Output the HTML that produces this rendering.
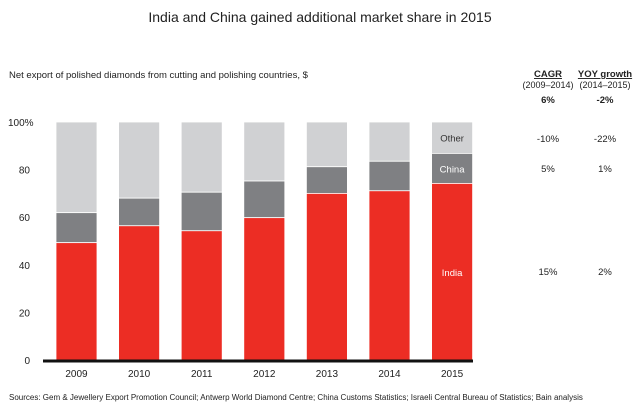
<!DOCTYPE html>
<html><head><meta charset="utf-8"><style>
body{margin:0;background:#fff;font-family:"Liberation Sans",sans-serif;}
svg text{font-family:"Liberation Sans",sans-serif;}
</style></head><body>
<svg width="639" height="415">
<text x="320" y="22" text-anchor="middle" font-size="14" fill="#222">India and China gained additional market share in 2015</text>
<text x="9" y="78" font-size="9.5" fill="#222">Net export of polished diamonds from cutting and polishing countries, $</text>
<g id="ylab"></g><g id="bars"></g><g id="xlab"></g>
<rect x="43" y="359.5" width="430" height="3" fill="#111"/>
<g font-size="9.5" fill="#222" text-anchor="middle">
<text x="548" y="77" font-weight="bold" text-decoration="underline">CAGR</text>
<text x="605" y="77" font-weight="bold" text-decoration="underline">YOY growth</text>
<text x="548" y="88" font-size="9">(2009–2014)</text>
<text x="605" y="88" font-size="9">(2014–2015)</text>
<text x="548" y="103" font-weight="bold">6%</text>
<text x="605" y="103" font-weight="bold">-2%</text>
<text x="548" y="142">-10%</text>
<text x="605" y="142">-22%</text>
<text x="548" y="172">5%</text>
<text x="605" y="172">1%</text>
<text x="548" y="275">15%</text>
<text x="605" y="275">2%</text>
</g>
<text x="9" y="400" font-size="8" fill="#222">Sources: Gem &amp; Jewellery Export Promotion Council; Antwerp World Diamond Centre; China Customs Statistics; Israeli Central Bureau of Statistics; Bain analysis</text>
</svg>
<script>
const years=["2009","2010","2011","2012","2013","2014","2015"];
const india=[49.3,56.4,54.3,59.8,70,71.1,74.2];
const china=[12.6,11.6,16.2,15.4,11.2,12.4,12.6];
const yTicks=[0,20,40,60,80,100];
const ns="http://www.w3.org/2000/svg";
const y0=360,y100=122;
const y=v=>y0-(y0-y100)*v/100;
const x=i=>56+i*62.6, bw=41;
function mk(t,a,p){const e=document.createElementNS(ns,t);for(const k in a)e.setAttribute(k,a[k]);document.getElementById(p).appendChild(e);return e;}
yTicks.forEach(t=>{const e=mk("text",{x:t===100?8:30,y:y(t)+4,"font-size":"10",fill:"#222","text-anchor":t===100?"start":"end"},"ylab");e.textContent=t===100?"100%":t;

});
years.forEach((yr,i)=>{
const ci=india[i]+china[i];
const o=mk("rect",{x:x(i),y:y(100),width:bw,height:y(ci)-y(100),fill:"#d0d1d3",stroke:"#fff","stroke-width":"0.8"},"bars");


const c=mk("rect",{x:x(i),y:y(ci),width:bw,height:y(india[i])-y(ci),fill:"#7f8083",stroke:"#fff","stroke-width":"0.8"},"bars");


const r=mk("rect",{x:x(i),y:y(india[i]),width:bw,height:y0-y(india[i]),fill:"#ec2d24",stroke:"#fff","stroke-width":"0.8"},"bars");


const t=mk("text",{x:x(i)+bw/2,y:377,"font-size":"10",fill:"#222","text-anchor":"middle"},"xlab");t.textContent=yr;


});
const L=years.length-1,cx=x(L)+bw/2;
[["Other",(100+india[L]+china[L])/2,"#333"],["China",india[L]+china[L]/2,"#fff"],["India",37,"#fff"]].forEach(d=>{
const t=mk("text",{x:cx,y:y(d[1])+4,"font-size":"9.5",fill:d[2],"text-anchor":"middle"},"bars");t.textContent=d[0];


});
</script>
</body></html>
